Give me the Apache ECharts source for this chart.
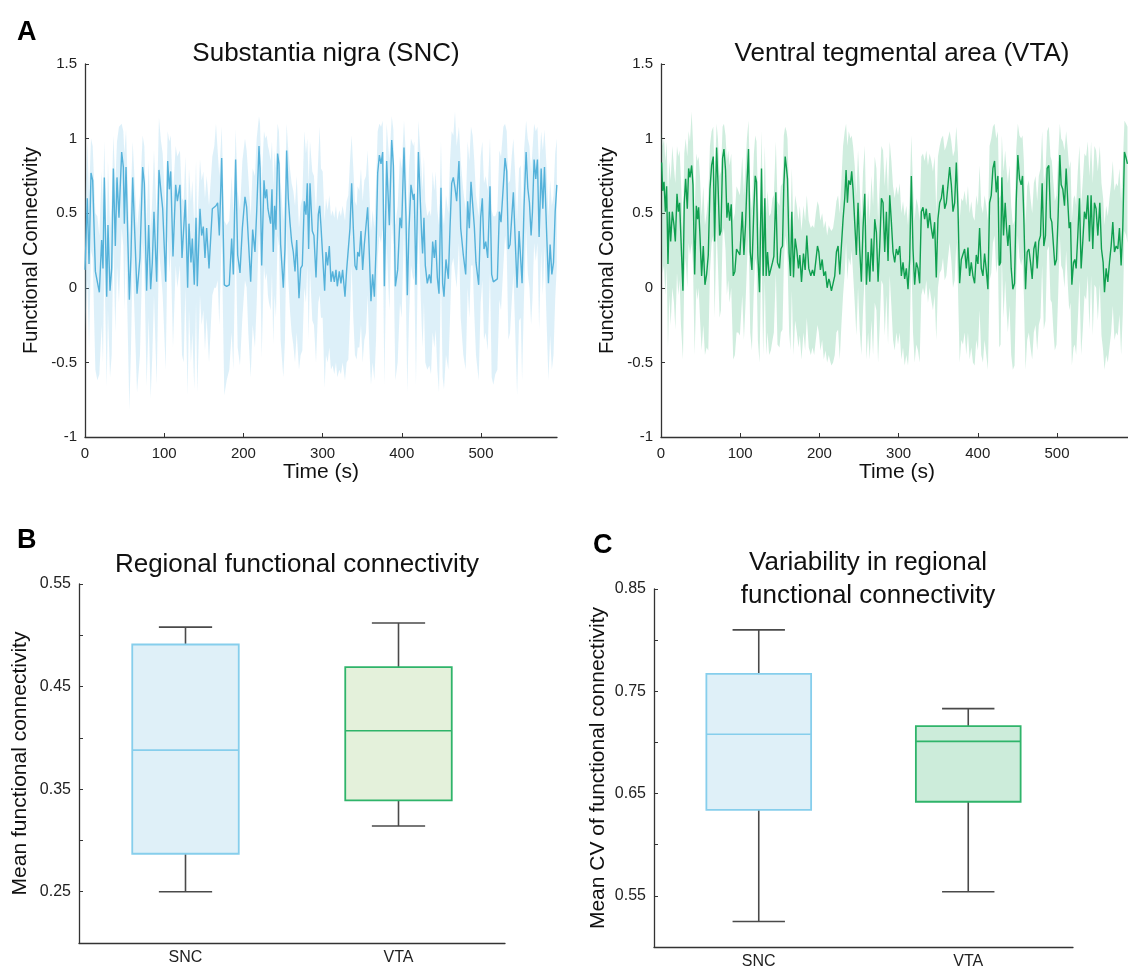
<!DOCTYPE html>
<html>
<head>
<meta charset="utf-8">
<script src="https://cdn.jsdelivr.net/npm/echarts@6/dist/echarts.min.js"></script>
<style>
  html, body { margin: 0; padding: 0; background: #fff; }
  #chart { width: 1128px; height: 970px; }
</style>
</head>
<body>
<div id="chart"></div>
<script>
// [time (s), mean FC, lower edge of band, upper edge of band]
const sncTrace = [
  [0, 0.12, -0.30, 0.55], [2.9, 0.60, 0.05, 0.98], [5.1, 0.16, -0.40, 0.62], [7.6, 0.77, 0.25, 1.00], [9.7, 0.72, 0.20, 0.95],
  [13.1, 0.11, -0.55, 0.50], [15.6, 0.10, -0.62, 0.48], [18.1, -0.03, -0.58, 0.35], [21, 0.32, -0.25, 0.78], [22.7, 0.13, -0.50, 0.55],
  [24.4, 0.74, 0.20, 0.98], [27.4, -0.06, -0.66, 0.32], [29, 0.42, -0.15, 0.85], [31.6, -0.02, -0.60, 0.40], [33.7, 0.13, -0.45, 0.58],
  [35.8, 0.80, 0.30, 1.02], [38.3, 0.28, -0.30, 0.70], [40.4, 0.74, 0.15, 0.98], [42.9, 0.47, -0.10, 1.08], [46.3, 0.91, 0.40, 1.10],
  [48.4, 0.81, 0.28, 1.05], [49.7, 0.43, -0.15, 0.90], [51.8, 0.81, 0.30, 1.06], [56, -0.08, -0.82, 0.35], [58.1, 0.22, -0.40, 0.65],
  [60.2, 0.74, 0.20, 0.98], [65.7, -0.04, -0.70, 0.40], [69.4, 0.20, -0.45, 0.62], [72.8, 0.81, 0.30, 1.02], [74.9, 0.70, 0.15, 0.95],
  [77.8, -0.02, -0.66, 0.42], [80.4, 0.42, -0.20, 0.85], [82.9, -0.01, -0.74, 0.38], [85, 0.17, -0.45, 0.60], [87.1, 0.51, -0.05, 0.92],
  [90.5, 0.04, -0.65, 0.48], [93.4, 0.79, 0.25, 1.14], [96, 0.64, 0.10, 0.98], [98.1, 0.53, -0.05, 0.90], [101.9, 0.04, -0.55, 0.50],
  [104.4, 0.85, 0.35, 1.05], [106.5, 0.66, 0.10, 0.98], [108.2, 0.78, 0.25, 1.02], [111.1, 0.21, -0.40, 0.62], [114.5, 0.69, 0.15, 0.95],
  [116.6, 0.58, 0.00, 0.88], [119.9, 0.69, 0.15, 0.92], [122.5, 0.20, -0.45, 0.60], [124.6, 0.19, -0.50, 0.58], [126.7, 0.59, 0.00, 0.88],
  [129.6, 0.00, -0.72, 0.40], [131.3, 0.43, -0.15, 0.80], [133.8, 0.17, -0.50, 0.58], [135.5, 0.33, -0.30, 0.72], [138, 0.02, -0.68, 0.42],
  [140.2, 0.47, -0.10, 0.85], [141.8, 0.01, -0.70, 0.40], [145.2, 0.53, -0.05, 0.86], [147.3, 0.35, -0.25, 0.72], [149.4, 0.41, -0.15, 0.78],
  [151.5, 0.20, -0.42, 0.60], [153.6, 0.40, -0.20, 0.75], [156.6, 0.13, -0.50, 0.55], [160.8, 0.53, -0.05, 0.88], [163.3, 0.53, 0.00, 0.95],
  [165.4, 0.55, 0.00, 1.10], [167.5, 0.57, 0.05, 0.92], [169.6, 0.35, -0.25, 0.75], [172.6, 0.87, 0.35, 1.08], [175.9, 0.02, -0.72, 0.45],
  [178.9, 0.01, -0.62, 0.42], [182.2, 0.02, -0.55, 0.45], [185.2, 0.33, -0.30, 0.75], [187.3, 0.09, -0.55, 0.50], [190.2, 0.86, 0.35, 1.06],
  [192.8, 0.22, -0.40, 0.65], [195.7, 0.10, -0.52, 0.52], [198.7, 0.40, -0.20, 0.85], [202, 0.61, 0.05, 1.00], [204.1, 0.54, 0.00, 0.92],
  [206.2, 0.33, -0.30, 0.75], [209.2, 0.04, -0.60, 0.48], [211.7, 0.39, -0.25, 0.80], [214.6, 0.24, -0.40, 0.75], [216.8, 0.51, -0.10, 1.00],
  [219.7, 0.95, 0.40, 1.15], [221, 0.80, 0.25, 1.10], [223.1, 0.15, -0.47, 0.70], [226, 0.72, 0.15, 1.05], [227.7, 0.60, 0.05, 1.00],
  [229.4, 0.66, 0.10, 1.02], [231, 0.53, -0.05, 0.95], [232.3, 0.49, -0.10, 0.92], [234.4, 0.43, -0.15, 0.85], [236.1, 0.66, 0.10, 0.98],
  [237.7, 0.24, -0.38, 0.68], [239.4, 0.55, -0.05, 0.92], [241.1, 0.39, -0.20, 0.80], [243.2, 0.90, 0.35, 1.10], [244.9, 0.83, 0.28, 1.05],
  [247, 0.29, -0.35, 0.72], [250.4, 0.00, -0.60, 0.45], [252.5, 0.26, -0.35, 0.68], [254.6, 0.92, 0.40, 1.10], [256.7, 0.60, 0.05, 0.92],
  [258.8, 0.44, -0.15, 0.80], [260.9, 0.31, -0.30, 0.70], [263, 0.24, -0.38, 0.65], [265.2, 0.11, -0.50, 0.55], [267.3, 0.32, -0.30, 0.75],
  [270.2, -0.07, -0.55, 0.40], [272.3, 0.13, -0.45, 0.55], [274.4, 0.15, -0.42, 0.60], [276.9, 0.58, 0.00, 1.05], [279, 0.49, -0.10, 0.90],
  [280.7, 0.70, 0.15, 1.00], [282.4, 0.26, -0.35, 0.70], [284.1, 0.70, 0.12, 0.98], [287, 0.38, -0.22, 0.78], [289.1, 0.35, -0.25, 0.75],
  [291.7, 0.07, -0.50, 0.50], [294.6, 0.49, -0.10, 0.88], [296.3, 0.55, -0.05, 1.08], [298, 0.41, -0.20, 0.80], [300.1, 0.40, -0.20, 0.78],
  [302.6, -0.02, -0.67, 0.45], [304.3, 0.24, -0.45, 0.60], [306.4, 0.15, -0.50, 0.52], [308.5, 0.28, -0.40, 0.62], [310.6, 0.04, -0.55, 0.48],
  [312.7, 0.11, -0.52, 0.52], [314.8, 0.04, -0.58, 0.47], [316.9, 0.12, -0.50, 0.55], [318.6, 0.01, -0.60, 0.45], [321.1, 0.11, -0.55, 0.52],
  [323.2, 0.03, -0.58, 0.48], [325.3, 0.12, -0.50, 0.55], [328.3, -0.06, -0.62, 0.45], [330.4, 0.12, -0.50, 0.58], [332.5, 0.13, -0.48, 0.62],
  [334.6, 0.40, -0.20, 0.85], [336.7, 0.70, 0.15, 1.02], [338.8, 0.40, -0.20, 0.80], [340.9, 0.15, -0.45, 0.58], [343, 0.12, -0.48, 0.55],
  [344.3, 0.24, -0.40, 0.68], [346.4, 0.21, -0.40, 0.65], [348.5, 0.38, -0.25, 0.80], [350.6, 0.12, -0.50, 0.58], [352.7, 0.29, -0.35, 0.72],
  [354.8, 0.30, -0.30, 0.75], [356.9, 0.54, -0.05, 0.92], [359, 0.23, -0.40, 0.65], [361.1, -0.09, -0.65, 0.38], [363.2, 0.09, -0.50, 0.52],
  [365.4, -0.06, -0.62, 0.40], [367.5, 0.26, -0.35, 0.70], [369.6, 0.77, 0.20, 1.05], [371.7, 0.89, 0.35, 1.10], [373.8, 0.83, 0.30, 1.08],
  [375.9, 0.91, 0.40, 1.12], [378, 0.01, -0.65, 0.45], [380.9, 0.85, 0.30, 1.10], [384.3, 0.42, -0.15, 0.85], [387.3, 0.99, 0.45, 1.15],
  [389.4, 0.82, 0.28, 1.06], [391.9, 0.01, -0.62, 0.42], [394.8, 0.12, -0.50, 0.55], [397.7, 0.47, -0.10, 0.88], [399.8, 0.40, -0.20, 0.80],
  [402.8, 0.94, 0.40, 1.12], [405.3, 0.48, -0.10, 0.88], [407, -0.05, -0.70, 0.38], [409.1, 0.39, -0.20, 0.80], [411.6, 0.69, 0.15, 1.00],
  [414.6, 0.59, 0.05, 0.95], [415.8, 0.63, 0.08, 0.98], [417.9, 0.02, -0.65, 0.45], [421, 0.91, 0.40, 1.12], [425.1, 0.35, -0.25, 0.78],
  [426.3, 0.23, -0.40, 0.65], [428, 0.47, -0.10, 0.88], [429.7, 0.15, -0.50, 0.58], [432.2, 0.03, -0.55, 0.48], [434.8, 0.09, -0.52, 0.52],
  [436.9, 0.03, -0.58, 0.48], [439, 0.31, -0.30, 0.78], [441.1, 0.20, -0.40, 0.65], [442.8, 0.32, -0.28, 0.78], [444.9, 0.07, -0.55, 0.52],
  [447, -0.04, -0.70, 0.42], [449.5, 0.67, 0.10, 0.98], [451.6, 0.03, -0.60, 0.50], [453.3, -0.06, -0.68, 0.42], [455.8, 0.19, -0.45, 0.62],
  [458.8, 0.06, -0.55, 0.50], [460.9, 0.40, -0.20, 0.85], [463, 0.70, 0.15, 1.05], [465.1, 0.74, 0.20, 1.02], [467.2, 0.67, 0.10, 1.18],
  [469.3, 0.58, 0.00, 0.95], [472.2, 0.85, 0.30, 1.08], [474.4, 0.40, -0.20, 0.85], [477.7, 0.22, -0.45, 0.65], [480.7, 0.09, -0.55, 0.52],
  [483.2, 0.58, 0.00, 0.98], [485.3, 0.40, -0.20, 0.85], [487.4, 0.71, 0.15, 1.08], [489.5, 0.72, 0.15, 1.02], [491.6, 0.41, -0.18, 0.85],
  [493.7, 0.17, -0.45, 0.62], [497.1, 0.02, -0.62, 0.48], [499.6, 0.47, -0.10, 0.88], [501.7, 0.60, 0.05, 0.98], [503.8, 0.26, -0.35, 0.70],
  [506, 0.31, -0.30, 0.75], [508.5, 0.20, -0.42, 0.65], [511.4, 0.68, 0.10, 1.00], [513.5, 0.09, -0.60, 0.52], [515.6, 0.04, -0.65, 0.48],
  [518.1, 0.03, -0.58, 0.48], [520.7, 0.06, -0.55, 0.52], [523.2, 0.51, -0.08, 0.92], [525.3, 0.44, -0.15, 0.88], [528.3, 0.69, 0.15, 1.08],
  [530.4, 0.87, 0.35, 1.10], [532.5, 0.78, 0.25, 1.05], [534.6, 0.26, -0.35, 0.70], [536.7, 0.29, -0.30, 0.72], [538.8, 0.47, -0.10, 0.88],
  [540.9, 0.64, 0.10, 1.00], [543, 0.35, -0.25, 0.78], [545.6, 0.00, -0.72, 0.45], [548.1, 0.38, -0.22, 0.80], [550.2, 0.39, -0.20, 0.82],
  [551.9, 0.03, -0.62, 0.48], [554.4, 0.55, -0.05, 0.92], [557, 0.91, 0.40, 1.12], [559.1, 0.67, 0.10, 1.00], [561.2, 0.57, 0.00, 0.95],
  [563.3, 0.35, -0.25, 0.78], [565, 0.51, -0.08, 0.92], [567.1, 0.86, 0.30, 1.10], [569.2, 0.73, 0.18, 1.05], [571.3, 0.86, 0.30, 1.08],
  [573.4, 0.34, -0.28, 0.78], [576, 0.80, 0.25, 1.05], [578.1, 0.53, -0.05, 0.92], [580.2, 0.81, 0.28, 1.06], [582.7, 0.40, -0.20, 0.82],
  [585.2, 0.03, -0.62, 0.48], [587.3, 0.29, -0.32, 0.72], [589.5, 0.09, -0.55, 0.55], [591.6, 0.17, -0.45, 0.62], [593.7, 0.51, -0.08, 0.90],
  [595.8, 0.69, 0.15, 1.00]
];

const vtaTrace = [
  [0.8, 0.84, 0.30, 1.05], [2.1, 0.65, 0.10, 0.95], [3.8, 0.71, 0.15, 1.00], [5.5, 0.51, -0.05, 0.85], [7.1, 0.68, 0.15, 0.98],
  [8.8, 0.16, -0.40, 0.60], [10.5, 0.51, -0.05, 0.85], [12.2, 0.31, -0.25, 0.72], [14.3, 0.51, 0.00, 0.95], [16.4, 0.42, -0.10, 0.80],
  [18.1, 0.31, -0.28, 0.70], [20.2, 0.63, 0.10, 0.95], [21.9, 0.51, -0.05, 0.88], [23.5, 0.57, 0.05, 0.92], [25.2, 0.33, -0.25, 0.72],
  [27.7, -0.02, -0.48, 0.40], [29.4, 0.57, 0.05, 0.90], [31.1, 0.73, 0.20, 1.00], [33.2, 0.53, 0.00, 0.88], [34.9, 0.80, 0.30, 1.05],
  [36.6, 0.74, 0.22, 0.98], [38.7, 0.82, 0.30, 1.18], [40.4, 0.69, 0.15, 0.98], [42.5, 0.09, -0.45, 0.50], [44.6, 0.55, 0.00, 0.90],
  [46.2, 0.46, -0.08, 0.85], [47.5, 0.54, 0.00, 0.88], [49.2, 0.35, -0.20, 0.75], [51.3, 0.08, -0.42, 0.48], [53.4, 0.28, -0.25, 0.68],
  [55.5, 0.02, -0.45, 0.42], [57.6, 0.09, -0.40, 0.50], [59.7, 0.22, -0.42, 0.62], [61.8, 0.66, 0.10, 0.95], [63.9, 0.82, 0.30, 1.05],
  [66, 0.88, 0.35, 1.08], [67.7, 0.31, -0.20, 0.72], [70.2, 0.94, 0.40, 1.10], [71.9, 0.71, 0.15, 1.00], [74, 0.35, -0.20, 0.75],
  [75.7, 0.38, -0.15, 0.78], [77.8, 0.87, 0.35, 1.08], [79.5, 0.93, 0.40, 1.10], [81.5, 0.79, 0.25, 1.02], [83.2, 0.47, -0.05, 0.85],
  [84.9, 0.57, 0.05, 0.92], [86.6, 0.45, -0.10, 0.82], [88.7, 0.56, 0.00, 0.90], [91.2, 0.08, -0.48, 0.45], [93.3, 0.11, -0.45, 0.50],
  [95.4, 0.26, -0.30, 0.68], [97.5, 0.25, -0.30, 0.65], [99.6, 0.22, -0.32, 0.62], [102.6, 0.51, -0.05, 0.88], [104.7, 0.22, -0.35, 0.62],
  [106.8, 0.43, -0.10, 0.82], [108.5, 0.69, 0.15, 1.00], [110.5, 0.93, 0.40, 1.12], [112.7, 0.24, -0.30, 0.65], [114.8, 0.12, -0.42, 0.52],
  [117.3, 0.54, 0.00, 0.90], [119, 0.75, 0.20, 1.02], [120.6, 0.71, 0.15, 0.98], [122.3, 0.22, -0.35, 0.62], [124.4, -0.03, -0.50, 0.38],
  [126.9, 0.80, 0.25, 1.05], [129, 0.08, -0.45, 0.48], [131.1, 0.60, 0.05, 0.95], [132.8, 0.08, -0.45, 0.50], [134.5, 0.24, -0.30, 0.65],
  [136.6, 0.08, -0.45, 0.48], [138.7, 0.07, -0.42, 0.50], [140.8, 0.17, -0.35, 0.60], [142.5, 0.21, -0.30, 0.62], [145, 0.64, 0.10, 0.98],
  [147.1, 0.17, -0.38, 0.58], [149.6, 0.13, -0.40, 0.55], [151.3, 0.26, -0.30, 0.68], [153.4, 0.28, -0.28, 0.70], [155.1, 0.69, 0.15, 1.02],
  [156.8, 0.88, 0.35, 1.08], [158.5, 0.80, 0.28, 1.05], [159.7, 0.73, 0.20, 1.00], [161.8, 0.23, -0.30, 0.62], [163.5, 0.08, -0.42, 0.45],
  [165.2, 0.51, -0.02, 0.80], [167.3, 0.07, -0.45, 0.40], [169.4, 0.33, -0.22, 0.62], [171.5, 0.25, -0.30, 0.55], [173.6, 0.13, -0.40, 0.45],
  [175.3, 0.22, -0.32, 0.55], [177.4, 0.04, -0.48, 0.38], [179.9, 0.23, -0.30, 0.55], [182, 0.12, -0.42, 0.45], [184.1, 0.35, -0.20, 0.62],
  [186.6, 0.13, -0.40, 0.45], [189.2, 0.08, -0.45, 0.40], [191.3, 0.12, -0.40, 0.42], [193.4, 0.08, -0.45, 0.40], [195.5, 0.18, -0.35, 0.50],
  [197.6, 0.28, -0.25, 0.58], [199.3, 0.24, -0.30, 0.55], [201.3, 0.12, -0.42, 0.45], [203.5, 0.19, -0.35, 0.50], [205.6, 0.08, -0.48, 0.40],
  [207.7, 0.11, -0.42, 0.45], [209.8, 0.00, -0.50, 0.35], [211.9, 0.06, -0.45, 0.42], [213.1, 0.04, -0.48, 0.40], [215.2, -0.02, -0.52, 0.38],
  [217.3, -0.01, -0.50, 0.40], [219.4, 0.08, -0.45, 0.48], [221.5, 0.24, -0.30, 0.58], [223.6, 0.28, -0.28, 0.62], [225.7, 0.09, -0.48, 0.50],
  [227.8, 0.28, -0.25, 0.72], [229.9, 0.46, -0.05, 0.95], [232, 0.60, 0.10, 1.05], [233.7, 0.79, 0.30, 1.10], [235.4, 0.57, 0.05, 0.95],
  [237.1, 0.72, 0.20, 1.05], [239.2, 0.69, 0.15, 1.00], [240.8, 0.78, 0.25, 1.02], [242.5, 0.66, 0.10, 0.95], [244.6, 0.44, -0.10, 0.82],
  [246.7, 0.22, -0.32, 0.62], [248.8, 0.57, 0.00, 0.92], [250.9, 0.26, -0.28, 0.68], [253, 0.04, -0.45, 0.45], [255.1, 0.40, -0.15, 0.78],
  [257.3, 0.63, 0.10, 0.95], [259.4, 0.02, -0.48, 0.42], [261.5, 0.24, -0.30, 0.65], [263.6, 0.04, -0.48, 0.45], [265.7, 0.33, -0.22, 0.75],
  [267.8, 0.11, -0.45, 0.55], [269.9, 0.46, -0.10, 0.88], [272, 0.37, -0.15, 0.80], [274.1, 0.04, -0.50, 0.45], [276.2, 0.28, -0.25, 0.70],
  [278.3, 0.60, 0.05, 0.95], [280.4, 0.57, 0.02, 0.92], [282.5, 0.24, -0.32, 0.68], [284.6, 0.51, -0.05, 0.88], [286.7, 0.18, -0.38, 0.62],
  [288.8, 0.62, 0.08, 0.98], [290.9, 0.44, -0.12, 0.85], [293, 0.24, -0.35, 0.68], [295.1, 0.17, -0.42, 0.60], [297.2, 0.26, -0.30, 0.68],
  [299.3, 0.22, -0.38, 0.62], [301.4, 0.28, -0.30, 0.70], [303.5, 0.08, -0.48, 0.50], [305.6, 0.17, -0.40, 0.58], [307.7, 0.06, -0.52, 0.48],
  [309.8, 0.13, -0.45, 0.55], [311.9, -0.01, -0.52, 0.42], [314, 0.19, -0.35, 0.62], [316.1, 0.75, 0.20, 1.02], [318.2, 0.26, -0.30, 0.68],
  [320.3, 0.02, -0.50, 0.45], [322.4, 0.17, -0.38, 0.60], [324.5, 0.13, -0.42, 0.55], [326.6, 0.03, -0.50, 0.45], [328.7, 0.51, -0.05, 0.88],
  [330.8, 0.54, 0.00, 0.90], [332.9, 0.46, -0.05, 0.85], [335, 0.53, 0.05, 0.92], [337.1, 0.40, -0.10, 0.82], [339.2, 0.50, 0.00, 0.90],
  [341.3, 0.40, -0.08, 0.85], [343.4, 0.33, -0.15, 0.78], [345.5, 0.44, -0.05, 0.88], [347.6, 0.07, -0.35, 0.50], [349.7, 0.46, 0.00, 0.88],
  [351.9, 0.57, 0.10, 0.95], [354, 0.60, 0.12, 1.00], [356.1, 0.69, 0.20, 1.02], [358.2, 0.53, 0.05, 0.92], [360.3, 0.57, 0.08, 0.95],
  [362.4, 0.69, 0.20, 1.00], [364.5, 0.81, 0.30, 1.05], [366.6, 0.69, 0.18, 0.98], [368.7, 0.51, 0.00, 0.88], [370.8, 0.57, 0.05, 0.92],
  [372.9, 0.84, 0.30, 1.08], [375, 0.53, 0.00, 0.90], [377.1, 0.03, -0.50, 0.45], [379.2, 0.19, -0.35, 0.60], [381.3, 0.19, -0.38, 0.58],
  [383.4, 0.26, -0.30, 0.65], [385.5, 0.13, -0.45, 0.55], [387.6, 0.27, -0.30, 0.68], [389.7, 0.08, -0.48, 0.50], [391.8, 0.17, -0.40, 0.58],
  [393.9, 0.08, -0.50, 0.48], [396, 0.03, -0.52, 0.45], [398.1, 0.22, -0.35, 0.62], [400.2, 0.16, -0.42, 0.55], [402.3, 0.40, -0.15, 0.82],
  [404.4, 0.13, -0.45, 0.55], [406.5, 0.08, -0.50, 0.50], [408.6, 0.23, -0.35, 0.62], [410.7, 0.12, -0.45, 0.55], [412.8, -0.01, -0.55, 0.45],
  [414.9, 0.57, 0.05, 0.95], [417, 0.62, 0.10, 1.00], [419.1, 0.80, 0.30, 1.08], [421.2, 0.85, 0.35, 1.10], [423.3, 0.64, 0.10, 1.00],
  [425.4, 0.75, 0.20, 1.05], [427.1, 0.15, -0.40, 0.60], [428.8, 0.17, -0.38, 0.62], [430.4, 0.74, 0.20, 1.02], [432.5, 0.35, -0.20, 0.78],
  [434.6, 0.57, 0.05, 0.92], [436.3, 0.40, -0.15, 0.80], [438, 0.28, -0.30, 0.70], [440.1, 0.42, -0.12, 0.82], [442.2, 0.13, -0.45, 0.55],
  [444.3, -0.01, -0.55, 0.42], [446.4, 0.03, -0.52, 0.45], [448.5, 0.57, 0.02, 0.92], [450.6, 0.89, 0.35, 1.10], [452.7, 0.73, 0.20, 1.02],
  [454.8, 0.69, 0.15, 1.00], [456.5, 0.75, 0.20, 1.02], [458.2, 0.46, -0.05, 0.85], [460.3, -0.01, -0.55, 0.42], [462.4, 0.24, -0.35, 0.68],
  [464.5, 0.26, -0.30, 0.72], [466.6, 0.17, -0.40, 0.60], [468.7, 0.06, -0.48, 0.50], [470.8, 0.26, -0.30, 0.70], [472.9, 0.31, -0.25, 0.75],
  [475, 0.13, -0.42, 0.58], [477.1, 0.31, -0.25, 0.75], [479.2, 0.35, -0.20, 0.80], [481.3, 0.70, 0.15, 1.05], [483.4, 0.28, -0.28, 0.70],
  [485.5, 0.35, -0.22, 0.78], [487.6, 0.80, 0.25, 1.05], [489.7, 0.82, 0.28, 1.08], [491.8, 0.47, -0.08, 0.88], [493.5, 0.44, -0.10, 0.85],
  [495.6, 0.28, -0.30, 0.70], [497.3, 0.15, -0.42, 0.58], [499.4, 0.19, -0.38, 0.62], [501.5, 0.49, -0.05, 0.88], [503.6, 0.89, 0.35, 1.10],
  [505.3, 0.69, 0.15, 1.00], [507.4, 0.66, 0.12, 0.98], [509.5, 0.55, 0.00, 0.92], [511.6, 0.80, 0.25, 1.05], [513.7, 0.57, 0.02, 0.92],
  [515.4, 0.40, -0.15, 0.80], [517.1, 0.44, -0.10, 0.85], [518.8, 0.02, -0.52, 0.45], [520.9, 0.17, -0.40, 0.60], [522.5, 0.19, -0.38, 0.62],
  [524.2, 0.13, -0.45, 0.55], [526.3, 0.35, -0.22, 0.78], [528.4, 0.60, 0.05, 0.95], [530.5, 0.13, -0.45, 0.55], [532.6, 0.31, -0.28, 0.72],
  [534.7, 0.51, -0.05, 0.90], [536.8, 0.46, -0.08, 0.88], [538.9, 0.62, 0.08, 0.98], [541, 0.31, -0.28, 0.75], [543.1, 0.62, 0.08, 0.98],
  [545.2, 0.26, -0.32, 0.70], [547.3, 0.57, 0.02, 0.95], [549.4, 0.53, 0.00, 0.92], [551.6, 0.35, -0.22, 0.78], [554.1, 0.57, 0.02, 0.95],
  [556.2, 0.26, -0.32, 0.70], [558.3, 0.17, -0.42, 0.60], [560, -0.03, -0.55, 0.42], [562.1, 0.13, -0.45, 0.55], [564.2, 0.04, -0.50, 0.48],
  [566.3, 0.17, -0.40, 0.60], [568.4, 0.28, -0.30, 0.70], [570.5, 0.44, -0.12, 0.85], [572.6, 0.24, -0.35, 0.65], [574.7, 0.28, -0.30, 0.70],
  [576.8, 0.26, -0.32, 0.68], [578.9, 0.40, -0.18, 0.80], [581, 0.15, -0.45, 0.58], [583.1, 0.40, -0.18, 0.82], [585.2, 0.91, 0.38, 1.12],
  [587.3, 0.87, 0.35, 1.10], [589, 0.83, 0.30, 1.08]
];

const regions = ['SNC', 'VTA'];
// [min, Q1, median, Q3, max]
const meanFc = [[0.250, 0.287, 0.388, 0.491, 0.508], [0.314, 0.339, 0.407, 0.469, 0.512]];
const cvFc = [[0.525, 0.634, 0.708, 0.767, 0.810], [0.554, 0.642, 0.701, 0.716, 0.733]];

const FONT = '"Liberation Sans", Arial, Helvetica, sans-serif';
const AXIS_COLOR = '#333';

const chart = echarts.init(document.getElementById('chart'));

function tsXAxis(grid) {
    return {
        type: 'value', gridIndex: grid, min: 0, max: 596, interval: 100,
        name: 'Time (s)', nameLocation: 'middle', nameGap: 25,
        nameTextStyle: {color: '#111', fontSize: 21, fontFamily: FONT},
        axisLine: {onZero: false, lineStyle: {color: AXIS_COLOR, width: 1.3}},
        axisTick: {inside: true, length: 4, lineStyle: {color: AXIS_COLOR}},
        axisLabel: {color: '#222', fontSize: 15, fontFamily: FONT, margin: 9, showMaxLabel: false},
        splitLine: {show: false}
    };
}

function tsYAxis(grid) {
    return {
        type: 'value', gridIndex: grid, min: -1, max: 1.5, interval: 0.5,
        name: 'Functional Connectivity', nameLocation: 'middle', nameGap: 44,
        nameTextStyle: {color: '#111', fontSize: 20, fontFamily: FONT},
        axisLine: {show: true, onZero: false, lineStyle: {color: AXIS_COLOR, width: 1.3}},
        axisTick: {show: true, inside: true, length: 4, lineStyle: {color: AXIS_COLOR}},
        axisLabel: {color: '#222', fontSize: 15, fontFamily: FONT, margin: 8},
        splitLine: {show: false}
    };
}

function boxXAxis(grid) {
    return {
        type: 'category', gridIndex: grid, data: regions,
        axisLine: {onZero: false, lineStyle: {color: AXIS_COLOR, width: 1.3}},
        axisTick: {inside: true, length: 4, alignWithLabel: true, lineStyle: {color: AXIS_COLOR}},
        axisLabel: {color: '#222', fontSize: 16, fontFamily: FONT, margin: 7}
    };
}

function boxYAxis(grid, min, max, name, gap) {
    return {
        type: 'value', gridIndex: grid, min: min, max: max, interval: 0.05,
        name: name, nameLocation: 'middle', nameGap: gap,
        nameTextStyle: {color: '#111', fontSize: 21, fontFamily: FONT},
        axisLine: {show: true, onZero: false, lineStyle: {color: AXIS_COLOR, width: 1.3}},
        axisTick: {show: true, inside: true, length: 4, lineStyle: {color: AXIS_COLOR}},
        axisLabel: {
            color: '#222', fontSize: 16, fontFamily: FONT, margin: 8,
            formatter: function (v) {
                const k = Math.round(v * 100);
                return k % 10 === 5 ? (k / 100).toFixed(2) : '';
            }
        },
        splitLine: {show: false}
    };
}

// shaded band between lower and upper edge, drawn as one polygon
function bandSeries(trace, fill, idx) {
    return {
        type: 'custom', xAxisIndex: idx, yAxisIndex: idx, silent: true, clip: true, z: 1,
        data: [[0, 0]],
        renderItem: function (params, api) {
            const pts = [];
            for (let i = 0; i < trace.length; i++) pts.push(api.coord([trace[i][0], trace[i][3]]));
            for (let i = trace.length - 1; i >= 0; i--) pts.push(api.coord([trace[i][0], trace[i][2]]));
            return {type: 'polygon', shape: {points: pts}, style: {fill: fill}};
        }
    };
}

function meanSeries(trace, color, idx) {
    return {
        type: 'line', xAxisIndex: idx, yAxisIndex: idx, z: 3,
        data: trace.map(d => [d[0], d[1]]),
        showSymbol: false, symbol: 'none',
        lineStyle: {color: color, width: 1.4},
        silent: true
    };
}

function boxSeries(stats, styles, idx) {
    return {
        type: 'custom', xAxisIndex: idx, yAxisIndex: idx, silent: true,
        encode: {x: 0, y: [1, 2, 3, 4, 5]},
        data: stats.map((s, i) => [i].concat(s)),
        renderItem: function (params, api) {
            const x = api.value(0);
            const pMin = api.coord([x, api.value(1)]);
            const pQ1 = api.coord([x, api.value(2)]);
            const pMed = api.coord([x, api.value(3)]);
            const pQ3 = api.coord([x, api.value(4)]);
            const pMax = api.coord([x, api.value(5)]);
            const bw = api.size([1, 0])[0] * 0.5;
            const cap = bw / 4;
            const cx = pMed[0];
            const st = styles[params.dataIndex];
            const wh = {stroke: '#4a4a4a', lineWidth: 1.6};
            return {
                type: 'group', children: [
                    {type: 'line', shape: {x1: cx, y1: pMin[1], x2: cx, y2: pQ1[1]}, style: wh},
                    {type: 'line', shape: {x1: cx, y1: pQ3[1], x2: cx, y2: pMax[1]}, style: wh},
                    {type: 'line', shape: {x1: cx - cap, y1: pMin[1], x2: cx + cap, y2: pMin[1]}, style: wh},
                    {type: 'line', shape: {x1: cx - cap, y1: pMax[1], x2: cx + cap, y2: pMax[1]}, style: wh},
                    {type: 'rect', shape: {x: cx - bw / 2, y: pQ3[1], width: bw, height: pQ1[1] - pQ3[1]},
                        style: {fill: st.fill, stroke: st.stroke, lineWidth: 1.8}},
                    {type: 'line', shape: {x1: cx - bw / 2, y1: pMed[1], x2: cx + bw / 2, y2: pMed[1]},
                        style: {stroke: st.stroke, lineWidth: 1.6}}
                ]
            };
        }
    };
}

const titleStyle = {color: '#111', fontSize: 26, fontWeight: 'normal', fontFamily: FONT, lineHeight: 33};
const letterStyle = {color: '#000', fontSize: 27, fontWeight: 'bold', fontFamily: FONT};

const option = {
    backgroundColor: '#fff',
    animation: false,
    title: [
        {text: 'A', left: 12, top: 14, textStyle: letterStyle},
        {text: 'B', left: 12, top: 522, textStyle: letterStyle},
        {text: 'C', left: 588, top: 527, textStyle: letterStyle},
        {text: 'Substantia nigra (SNC)', left: 321, top: 32, textAlign: 'center', textStyle: titleStyle},
        {text: 'Ventral tegmental area (VTA)', left: 897, top: 32, textAlign: 'center', textStyle: titleStyle},
        {text: 'Regional functional connectivity', left: 292, top: 543, textAlign: 'center', textStyle: titleStyle},
        {text: 'Variability in regional\nfunctional connectivity', left: 863, top: 541, textAlign: 'center', textStyle: titleStyle}
    ],
    grid: [
        {left: 85, top: 64, width: 472, height: 373, outerBoundsMode: 'none'},
        {left: 661, top: 64, width: 472, height: 373, outerBoundsMode: 'none'},
        {left: 79, top: 584, width: 426, height: 359, outerBoundsMode: 'none'},
        {left: 654, top: 589, width: 419, height: 358, outerBoundsMode: 'none'}
    ],
    xAxis: [tsXAxis(0), tsXAxis(1), boxXAxis(2), boxXAxis(3)],
    yAxis: [
        tsYAxis(0), tsYAxis(1),
        boxYAxis(2, 0.2, 0.55, 'Mean functional connectivity', 48),
        boxYAxis(3, 0.5, 0.85, 'Mean CV of functional connectivity', 45)
    ],
    series: [
        bandSeries(sncTrace, 'rgba(130, 198, 232, 0.27)', 0),
        meanSeries(sncTrace, '#55b2da', 0),
        bandSeries(vtaTrace, 'rgba(70, 186, 128, 0.26)', 1),
        meanSeries(vtaTrace, '#0f9f4f', 1),
        boxSeries(meanFc, [{fill: '#dff0f8', stroke: '#86ceec'}, {fill: '#e4f1db', stroke: '#2fb46a'}], 2),
        boxSeries(cvFc, [{fill: '#dff0f8', stroke: '#86ceec'}, {fill: '#ccecda', stroke: '#2fb46a'}], 3)
    ]
};

chart.setOption(option);
</script>
</body>
</html>
